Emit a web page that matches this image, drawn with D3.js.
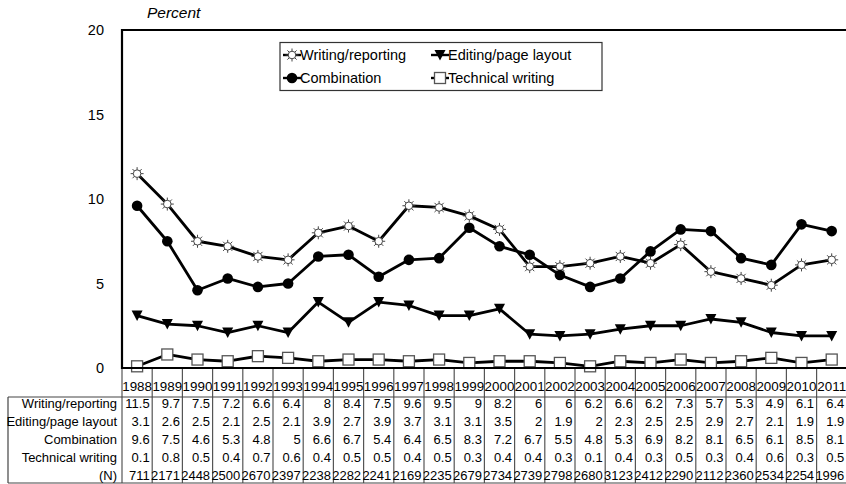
<!DOCTYPE html>
<html><head><meta charset="utf-8">
<script src="https://cdn.jsdelivr.net/npm/d3@7"></script>
<style>
html,body{margin:0;padding:0;background:#fff;}
svg{display:block;font-family:"Liberation Sans",Arial,sans-serif;}
</style></head>
<body><svg id="c" width="846" height="484"></svg>
<script>
const years = ["1988","1989","1990","1991","1992","1993","1994","1995","1996","1997","1998","1999","2000","2001","2002","2003","2004","2005","2006","2007","2008","2009","2010","2011"];
const writingReporting = [11.5,9.7,7.5,7.2,6.6,6.4,8,8.4,7.5,9.6,9.5,9,8.2,6,6,6.2,6.6,6.2,7.3,5.7,5.3,4.9,6.1,6.4];
const editingLayout = [3.1,2.6,2.5,2.1,2.5,2.1,3.9,2.7,3.9,3.7,3.1,3.1,3.5,2,1.9,2,2.3,2.5,2.5,2.9,2.7,2.1,1.9,1.9];
const combination = [9.6,7.5,4.6,5.3,4.8,5,6.6,6.7,5.4,6.4,6.5,8.3,7.2,6.7,5.5,4.8,5.3,6.9,8.2,8.1,6.5,6.1,8.5,8.1];
const technicalWriting = [0.1,0.8,0.5,0.4,0.7,0.6,0.4,0.5,0.5,0.4,0.5,0.3,0.4,0.4,0.3,0.1,0.4,0.3,0.5,0.3,0.4,0.6,0.3,0.5];
const sampleN = [711,2171,2448,2500,2670,2397,2238,2282,2241,2169,2235,2679,2734,2739,2798,2680,3123,2412,2290,2112,2360,2534,2254,1996];
const yTicks = [0,5,10,15,20];

const series = [
  {name:"Writing/reporting", values:writingReporting, marker:"sun"},
  {name:"Editing/page layout", values:editingLayout, marker:"tri"},
  {name:"Combination", values:combination, marker:"dot"},
  {name:"Technical writing", values:technicalWriting, marker:"sq"}
];

const svg = d3.select("#c");
const L = 122, T = 30, B = 368;
const x = d3.scaleBand().domain(years).range([L, L + 24*30.2]).padding(0);
const y = d3.scaleLinear().domain([0,20]).range([B, T]);
const cx = d => x(d) + x.bandwidth()/2;

const tableTop = 397, tableBot = 483, rowH = 18.1;
svg.append("g").selectAll("line").data(years.concat(["end"])).join("line")
  .attr("x1", (d,i)=> L + i*x.bandwidth()).attr("x2",(d,i)=> L + i*x.bandwidth())
  .attr("y1", B).attr("y2", tableBot)
  .attr("stroke","#555").attr("stroke-width",1.2);

svg.append("line").attr("x1",8).attr("x2",846).attr("y1",tableTop).attr("y2",tableTop).attr("stroke","#444").attr("stroke-width",1.2);
svg.append("line").attr("x1",8).attr("x2",846).attr("y1",tableBot).attr("y2",tableBot).attr("stroke","#444").attr("stroke-width",1.2);
svg.append("line").attr("x1",8).attr("x2",8).attr("y1",tableTop).attr("y2",tableBot).attr("stroke","#444").attr("stroke-width",1.2);

svg.append("g").selectAll("text").data(years).join("text")
  .attr("x", d=>cx(d)).attr("y", 391).attr("text-anchor","middle")
  .attr("font-size",13.4).attr("fill","#000").text(d=>d);

const rows = series.map(s=>({label:s.name, values:s.values})).concat([{label:"(N)", values:sampleN}]);
rows.forEach((r,ri)=>{
  const ty = 407.5 + rowH*ri;
  svg.append("text").attr("x",117).attr("y",ty).attr("text-anchor","end")
    .attr("font-size",13).text(r.label);
  svg.append("g").selectAll("text").data(r.values).join("text")
    .attr("x",(d,i)=> x(years[i]) + x.bandwidth() - 2.5).attr("y",ty)
    .attr("text-anchor","end").attr("font-size",13).text(d=>d);
});

svg.append("g").selectAll("text").data(yTicks).join("text")
  .attr("x",104).attr("y",d=>y(d)+5).attr("text-anchor","end")
  .attr("font-size",14.5).text(d=>d);

svg.append("text").attr("x",147).attr("y",18).attr("font-size",15.5).attr("font-style","italic").text("Percent");

const line = d3.line().x((d,i)=>cx(years[i])).y(d=>y(d));
series.forEach(s=>{
  svg.append("path").attr("d", line(s.values)).attr("fill","none")
    .attr("stroke","#000").attr("stroke-width",2.8).attr("stroke-linejoin","round");
});

function drawMarker(g, type, px, py){
  if(type==="sun"){
    const rays = d3.range(8).map(k=>k*Math.PI/4);
    rays.forEach(a=>{
      g.append("line").attr("x1",px+Math.cos(a)*3.5).attr("y1",py+Math.sin(a)*3.5)
       .attr("x2",px+Math.cos(a)*6.5).attr("y2",py+Math.sin(a)*6.5)
       .attr("stroke","#444").attr("stroke-width",1);
    });
    g.append("circle").attr("cx",px).attr("cy",py).attr("r",3.8).attr("fill","#fff").attr("stroke","#444").attr("stroke-width",1);
  } else if(type==="tri"){
    g.append("path").attr("d",`M${px-5.5},${py-5}L${px+5.5},${py-5}L${px},${py+5.5}Z`).attr("fill","#000");
  } else if(type==="dot"){
    g.append("circle").attr("cx",px).attr("cy",py).attr("r",5.3).attr("fill","#000");
  } else if(type==="sq"){
    g.append("rect").attr("x",px-5.5).attr("y",py-5.5).attr("width",11).attr("height",11)
      .attr("fill","#fff").attr("stroke","#555").attr("stroke-width",1.3);
  }
}
series.forEach(s=>{
  const g = svg.append("g");
  s.values.forEach((v,i)=> drawMarker(g, s.marker, cx(years[i]), y(v)));
});

svg.append("line").attr("x1",L).attr("x2",846).attr("y1",T).attr("y2",T).attr("stroke","#000").attr("stroke-width",2.2);
svg.append("line").attr("x1",L).attr("x2",L).attr("y1",T-1).attr("y2",B+1).attr("stroke","#000").attr("stroke-width",2.2);
svg.append("line").attr("x1",L-1).attr("x2",846).attr("y1",B).attr("y2",B).attr("stroke","#000").attr("stroke-width",2.2);

const lg = svg.append("g");
lg.append("rect").attr("x",280).attr("y",42.5).attr("width",322).attr("height",48)
  .attr("fill","#fff").attr("stroke","#333").attr("stroke-width",1.2);
const legPos = [[292,55],[440,55],[292,78],[440,78]];
series.forEach((s,i)=>{
  const [lx,ly] = legPos[i];
  lg.append("line").attr("x1",lx-9).attr("x2",lx+9).attr("y1",ly).attr("y2",ly).attr("stroke","#000").attr("stroke-width",2.4);
  drawMarker(lg, s.marker, lx, ly);
  lg.append("text").attr("x",lx+8).attr("y",ly+5).attr("font-size",14.5).text(s.name);
});
</script></body></html>
